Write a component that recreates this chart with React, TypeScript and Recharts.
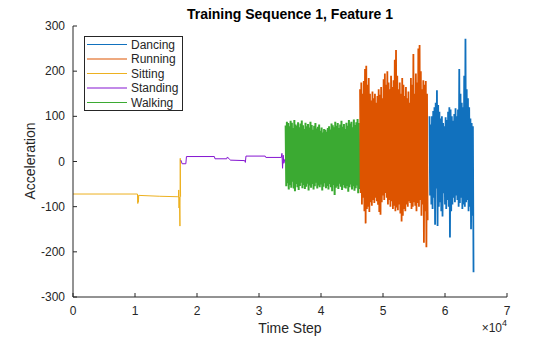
import { Legend, Line, LineChart, XAxis, YAxis } from "recharts"

const activities = ["Dancing", "Running", "Sitting", "Standing", "Walking"]
const activityColors = ["#1171BE", "#DD5400", "#EDB120", "#8516D1", "#3BAA32"]
const xTicks = [0, 10000, 20000, 30000, 40000, 50000, 60000, 70000]
const yTicks = [-300, -200, -100, 0, 100, 200, 300]

// slow activities: read as (time step, value) pairs
const sittingTime = [0, 5000, 10400, 10450, 10500, 10550, 10600, 14000, 16900, 17000, 17050, 17100, 17150, 17250, 17300, 17350]
const sittingValue = [-72, -72, -72, -93, -75, -90, -75, -77, -78, -79, -63, -103, -79, -143, 7, -78]

const standingTime = [17400, 17600, 18200, 18300, 22800, 22900, 24800, 24900, 25300, 25400, 27700, 27800, 27900, 31000, 31100, 33600, 33700, 33800, 33900, 34000, 34200]
const standingValue = [3, -5, -5, 11, 11, 6, 6, 10, 4, 3, 2, -2, 12, 12, 9, 9, 18, -15, 14, -4, 6]

// fast activities: alternating peaks and troughs, one sample every `step`
const walkingStart = 34300
const walkingStep = 100
const walkingHigh = [
  80, 88, 85, 78, 90, 86, 74, 92, 82, 79,
  87, 76, 84, 91, 80, 72, 86, 78, 83, 75,
  88, 81, 70, 79, 85, 73, 77, 82, 68, 75,
  64, 72, 70, 66, 74, 78, 71, 84, 80, 76,
  88, 79, 85, 74, 82, 90, 77, 83, 72, 86,
  79, 92, 84, 88, 76, 93, 81, 87, 94, 85,
]
const walkingLow = [
  -55, -48, -62, -52, -58, -45, -60, -66, -50, -57,
  -63, -54, -47, -59, -52, -61, -56, -49, -64, -53,
  -58, -50, -62, -55, -47, -60, -53, -57, -51, -64,
  -56, -48, -59, -54, -62, -50, -57, -66, -52, -74,
  -58, -55, -61, -49, -56, -63, -52, -58, -60, -54,
  -67, -57, -51, -62, -55, -65, -59, -53, -70, -61,
]

const runningStart = 46300
const runningStep = 100
const runningHigh = [
  160, 175, 150, 178, 205, 212, 170, 185, 150, 135,
  155, 140, 150, 130, 145, 160, 148, 165, 140, 182,
  195, 170, 200, 175, 160, 190, 165, 180, 225, 247,
  190, 160, 175, 150, 185, 170, 145, 165, 140, 155,
  130, 185, 170, 238, 150, 195, 175, 250, 258, 200,
  160, 180, 170, 178, 150,
]
const runningLow = [
  -70, -95, -80, -110, -137, -105, -100, -112, -90, -98,
  -85, -92, -80, -88, -96, -112, -118, -90, -75, -85,
  -70, -80, -95, -85, -100, -88, -105, -98, -110, -102,
  -108, -95, -115, -133, -120, -105, -110, -95, -100, -88,
  -92, -105, -100, -90, -98, -110, -92, -100, -85, -120,
  -95, -180, -110, -190, -130,
]

const dancingStart = 57500
const dancingStep = 100
const dancingHigh = [
  100, 82, 100, 112, 120, 130, 158, 125, 110, 95,
  100, 85, 78, 98, 92, 110, 120, 115, 100, 90,
  105, 118, 100, 115, 205, 150, 130, 120, 190, 272,
  160, 140, 120, 95, 85, 78,
]
const dancingLow = [
  -75, -95, -105, -80, -140, -60, -143, -100, -90, -110,
  -122, -70, -95, -105, -85, -100, -168, -110, -95, -80,
  -90, -75, -85, -100, -92, -80, -105, -95, -100, -90,
  -85, -110, -100, -150, -120, -245,
]

const pairs = (times: number[], values: number[]) => times.map((t, i) => ({ t, v: values[i] }))
const zigzag = (start: number, step: number, highs: number[], lows: number[]) =>
  highs.flatMap((h, i) => [
    { t: start + 2 * i * step, v: h },
    { t: start + (2 * i + 1) * step, v: lows[i] },
  ])

const series = [
  { name: "Sitting", data: pairs(sittingTime, sittingValue), width: 1 },
  { name: "Standing", data: pairs(standingTime, standingValue), width: 1 },
  { name: "Walking", data: zigzag(walkingStart, walkingStep, walkingHigh, walkingLow), width: 2 },
  { name: "Running", data: zigzag(runningStart, runningStep, runningHigh, runningLow), width: 1.8 },
  { name: "Dancing", data: zigzag(dancingStart, dancingStep, dancingHigh, dancingLow), width: 1.8 },
]

const font = "'Liberation Sans', Arial, Helvetica, sans-serif"
const ink = "#262626"
const colorOf = (name: string) => activityColors[activities.indexOf(name)]

function XTick({ x, y, payload }: any) {
  return (
    <g>
      <line x1={x} y1={y} x2={x} y2={y - 4} stroke={ink} />
      <text x={x} y={y + 18} textAnchor="middle" fontSize={12} fontFamily={font} fill={ink}>
        {payload.value / 10000}
      </text>
    </g>
  )
}

function YTick({ x, y, payload }: any) {
  return (
    <g>
      <line x1={x} y1={y} x2={x + 4} y2={y} stroke={ink} />
      <text x={x - 8} y={y + 4} textAnchor="end" fontSize={12} fontFamily={font} fill={ink}>
        {payload.value}
      </text>
    </g>
  )
}

function LegendBox() {
  return (
    <svg width={100} height={76} style={{ display: "block" }}>
      <rect x={0.5} y={0.5} width={98} height={74} fill="#fff" stroke={ink} />
      {activities.map((name, i) => (
        <g key={name}>
          <line x1={3} x2={43} y1={8.5 + i * 14.5} y2={8.5 + i * 14.5} stroke={activityColors[i]} strokeWidth={1.2} />
          <text x={47} y={12.5 + i * 14.5} fontSize={12} fontFamily={font} fill={ink}>
            {name}
          </text>
        </g>
      ))}
    </svg>
  )
}

export default function App() {
  return (
    <div style={{ position: "absolute", left: 0, top: 0, width: 560, height: 337, background: "#fff" }}>
      <div
        style={{
          position: "absolute",
          left: 73,
          width: 434,
          top: 6,
          textAlign: "center",
          fontFamily: font,
          fontWeight: "bold",
          fontSize: 14,
          lineHeight: "16px",
          color: "#000",
        }}
      >
        Training Sequence 1, Feature 1
      </div>
      <LineChart width={560} height={337} margin={{ top: 26, right: 53, bottom: 0, left: 13 }}>
        <XAxis
          type="number"
          dataKey="t"
          domain={[0, 70000]}
          ticks={xTicks}
          tickSize={0}
          tickMargin={0}
          tick={<XTick />}
          height={40}
          stroke={ink}
          allowDataOverflow
          label={{
            content: () => (
              <g>
                <text x={290} y={333} textAnchor="middle" fontSize={14} fontFamily={font} fill={ink}>
                  Time Step
                </text>
                <text x={507} y={332} textAnchor="end" fontSize={12} fontFamily={font} fill={ink}>
                  ×10<tspan dy={-6} fontSize={9}>4</tspan>
                </text>
              </g>
            ),
          }}
        />
        <YAxis
          type="number"
          domain={[-300, 300]}
          ticks={yTicks}
          tickSize={0}
          tickMargin={0}
          tick={<YTick />}
          width={60}
          stroke={ink}
          allowDataOverflow
          label={{
            content: () => (
              <text
                x={30}
                y={161}
                transform="rotate(-90, 30, 161)"
                textAnchor="middle"
                dominantBaseline="central"
                fontSize={14}
                fontFamily={font}
                fill={ink}
              >
                Acceleration
              </text>
            ),
          }}
        />
        <Legend
          layout="vertical"
          align="center"
          verticalAlign="middle"
          content={() => <LegendBox />}
          wrapperStyle={{ left: 84, top: 36, width: 100, height: 76 }}
        />
        {series.map((s) => (
          <Line
            key={s.name}
            name={s.name}
            data={s.data}
            dataKey="v"
            type="linear"
            stroke={colorOf(s.name)}
            strokeWidth={s.width}
            strokeLinejoin="bevel"
            dot={false}
            activeDot={false}
            isAnimationActive={false}
          />
        ))}
      </LineChart>
    </div>
  )
}
